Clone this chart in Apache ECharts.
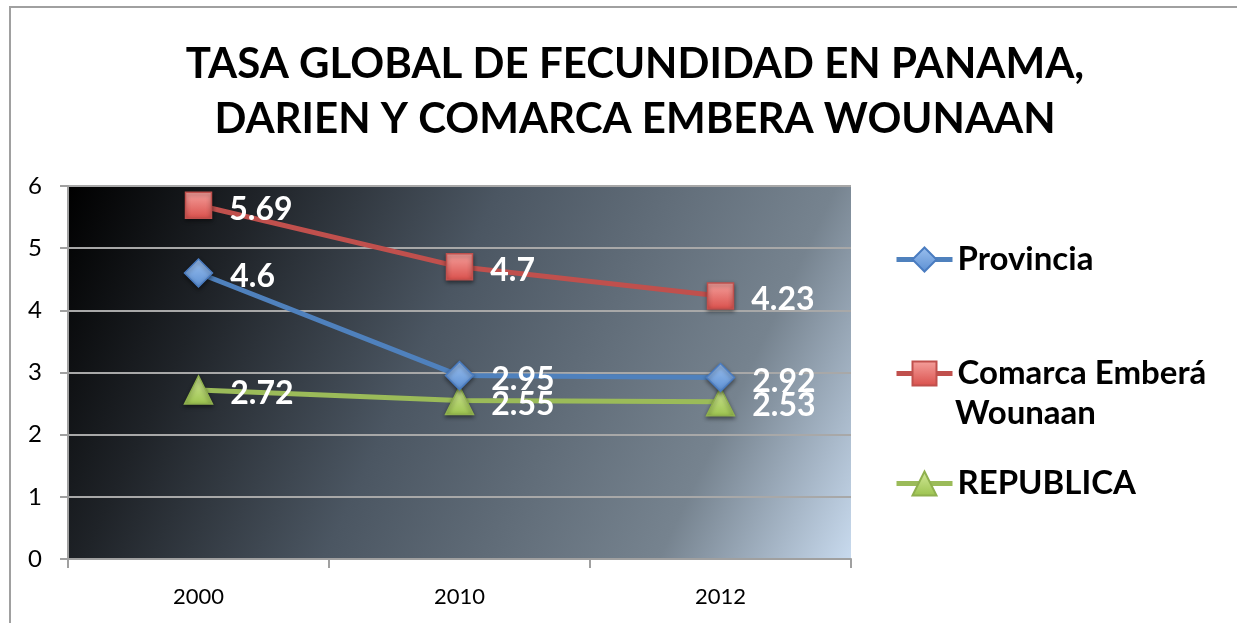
<!DOCTYPE html>
<html>
<head>
<meta charset="utf-8">
<script src="https://cdn.jsdelivr.net/npm/echarts@6/dist/echarts.min.js"></script>
<style>
  html, body { margin: 0; padding: 0; background: #fff; }
  #main { width: 1237px; height: 623px; }
</style>
</head>
<body>
<div id="main"></div>
<script type="text/javascript">
// datos del grafico
var years = ['2000', '2010', '2012'];
var provincia = [4.6, 2.95, 2.92];
var comarca = [5.69, 4.7, 4.23];
var republica = [2.72, 2.55, 2.53];
var yTicks = [0, 6, 1]; // min, max, intervalo

var FONT = 'Lato';

var myChart = echarts.init(document.getElementById('main'));

function grad(c1, c2) {
    return new echarts.graphic.LinearGradient(0, 0, 0, 1, [
        { offset: 0, color: c1 },
        { offset: 1, color: c2 }
    ]);
}

var labelCfg = {
    show: true,
    position: 'right',
    distance: 17,
    offset: [0, 4],
    color: '#ffffff',
    fontFamily: FONT,
    fontWeight: 'bold',
    fontSize: 32
};

var legendText = { fontFamily: FONT, fontWeight: 'bold', fontSize: 33, color: '#000' };

var option = {
    backgroundColor: '#ffffff',
    animation: false,
    textStyle: { fontFamily: FONT },
    title: {
        text: 'TASA GLOBAL DE FECUNDIDAD EN PANAMA,\nDARIEN Y COMARCA EMBERA WOUNAAN',
        left: 635,
        top: 37,
        padding: 0,
        textAlign: 'center',
        textStyle: {
            fontFamily: FONT,
            fontWeight: 'bold',
            fontSize: 42,
            lineHeight: 55,
            color: '#000000'
        }
    },
    graphic: [{
        type: 'rect',
        shape: { x: 10, y: 7, width: 1400, height: 800 },
        style: { fill: 'none', stroke: '#a0a0a0', lineWidth: 2 },
        silent: true
    }, {
        type: 'text',
        left: 955,
        top: 397,
        style: { text: 'Wounaan', font: 'bold 33px Lato', fill: '#000' },
        silent: true
    }],
    legend: [{
        left: 889, top: 238,
        data: ['Provincia'],
        itemWidth: 56, itemHeight: 30, itemGap: 5,
        lineStyle: { width: 5 },
        textStyle: legendText
    }, {
        left: 889, top: 352,
        data: ['Comarca Emberá Wounaan'],
        formatter: function () { return 'Comarca Emberá'; },
        itemWidth: 56, itemHeight: 30, itemGap: 5,
        lineStyle: { width: 5 },
        textStyle: legendText
    }, {
        left: 889, top: 462,
        data: ['REPUBLICA'],
        itemWidth: 56, itemHeight: 30, itemGap: 5,
        lineStyle: { width: 5 },
        textStyle: legendText
    }],
    grid: {
        left: 68,
        top: 186,
        right: 386,
        bottom: 64,
        show: true,
        borderWidth: 0,
        backgroundColor: new echarts.graphic.LinearGradient(0, 0, 1, 1, [
            { offset: 0, color: '#000000' },
            { offset: 0.2, color: '#1f2328' },
            { offset: 0.45, color: '#4b5662' },
            { offset: 0.8, color: '#76838f' },
            { offset: 1, color: '#c8daee' }
        ])
    },
    xAxis: {
        type: 'category',
        data: years,
        boundaryGap: true,
        axisLine: { show: true, lineStyle: { color: '#a0a0a0', width: 2 } },
        axisTick: { show: true, length: 9, lineStyle: { color: '#a0a0a0', width: 2 } },
        axisLabel: { margin: 27, fontFamily: FONT, fontSize: 22, color: '#000' }
    },
    yAxis: {
        type: 'value',
        min: yTicks[0],
        max: yTicks[1],
        interval: yTicks[2],
        axisLine: { show: true, lineStyle: { color: '#a0a0a0', width: 2 } },
        axisTick: { show: true, length: 8, lineStyle: { color: '#a0a0a0', width: 2 } },
        axisLabel: { margin: 26, fontFamily: FONT, fontSize: 24, color: '#000' },
        splitLine: { show: true, lineStyle: { color: '#a8a8a8', width: 2 } }
    },
    series: [{
        name: 'Provincia',
        type: 'line',
        data: provincia,
        symbol: 'diamond',
        symbolSize: 28,
        lineStyle: { color: '#4f81bd', width: 5 },
        itemStyle: {
            color: grad('#9cc0ee', '#5b8fd3'),
            borderColor: '#4a7cc0',
            borderWidth: 1.5,
            shadowColor: 'rgba(0,0,0,0.45)', shadowBlur: 4, shadowOffsetY: 2
        },
        label: labelCfg,
        z: 3
    }, {
        name: 'Comarca Emberá Wounaan',
        type: 'line',
        data: comarca,
        symbol: 'rect',
        symbolSize: 26,
        lineStyle: { color: '#c0504d', width: 5 },
        itemStyle: {
            color: grad('#f5a19d', '#d94f4b'),
            borderColor: '#c0504d',
            borderWidth: 1.5,
            shadowColor: 'rgba(0,0,0,0.45)', shadowBlur: 4, shadowOffsetY: 2
        },
        label: labelCfg,
        z: 3
    }, {
        name: 'REPUBLICA',
        type: 'line',
        data: republica,
        symbol: 'triangle',
        symbolSize: 28,
        lineStyle: { color: '#9bbb59', width: 5 },
        itemStyle: {
            color: grad('#d4ea9a', '#9bc24e'),
            borderColor: '#8fb04e',
            borderWidth: 1.5,
            shadowColor: 'rgba(0,0,0,0.45)', shadowBlur: 4, shadowOffsetY: 2
        },
        label: labelCfg,
        z: 2
    }]
};

myChart.setOption(option);
</script>
</body>
</html>
